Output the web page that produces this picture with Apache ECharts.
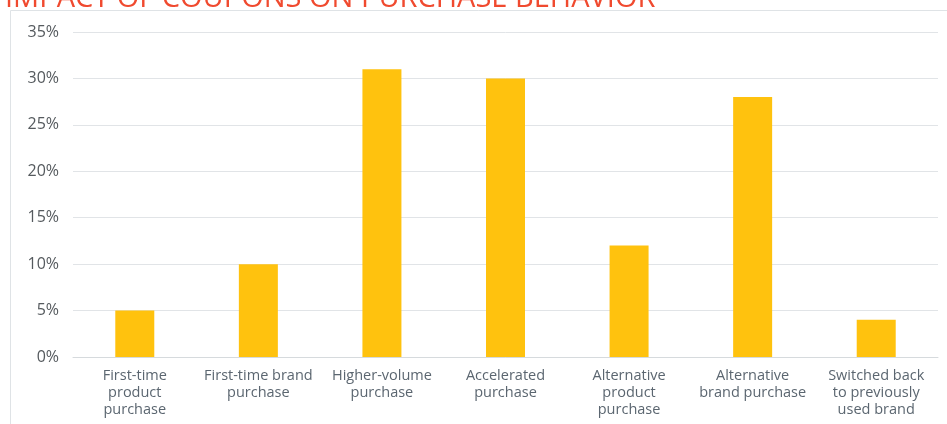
<!DOCTYPE html>
<html>
<head>
<meta charset="utf-8">
<script src="https://cdn.jsdelivr.net/npm/echarts@6/dist/echarts.min.js"></script>
<style>
  html, body { margin: 0; padding: 0; background: #fff; }
  #chart { width: 947px; height: 424px; }
</style>
</head>
<body>
<div id="chart"></div>
<script>
const categories = [
  'First-time\nproduct\npurchase',
  'First-time brand\npurchase',
  'Higher-volume\npurchase',
  'Accelerated\npurchase',
  'Alternative\nproduct\npurchase',
  'Alternative\nbrand purchase',
  'Switched back\nto previously\nused brand'
]
const values = [5, 10, 31, 30, 12, 28, 4]
const yTicks = [0, 5, 10, 15, 20, 25, 30, 35]

const chart = echarts.init(document.getElementById('chart'))
const option = {
  backgroundColor: '#ffffff',
  animation: false,
  title: {
    text: 'IMPACT OF COUPONS ON PURCHASE BEHAVIOR',
    left: 0,
    top: -21,
    textStyle: {
      color: '#f04a2f',
      fontFamily: 'Open Sans',
      fontSize: 29,
      fontWeight: 'normal'
    }
  },
  graphic: [{
    type: 'polyline',
    shape: { points: [[10.5, 424], [10.5, 10.5], [947, 10.5]] },
    style: { stroke: '#dfe3e6', lineWidth: 1, fill: null },
    silent: true
  }],
  grid: {
    left: 73,
    right: 9,
    top: 32,
    bottom: 67
  },
  xAxis: {
    type: 'category',
    data: categories,
    axisLine: { lineStyle: { color: '#d6dadd', width: 1 } },
    axisTick: { show: false },
    axisLabel: {
      interval: 0,
      color: '#5b6670',
      fontFamily: 'Open Sans',
      fontSize: 14.5,
      lineHeight: 17,
      margin: 10
    }
  },
  yAxis: {
    type: 'value',
    min: yTicks[0],
    max: yTicks[yTicks.length - 1],
    interval: 5,
    axisLine: { show: false },
    axisTick: { show: false },
    splitLine: { lineStyle: { color: '#e1e4e7', width: 1 } },
    axisLabel: {
      color: '#555a5e',
      fontFamily: 'Open Sans',
      fontSize: 16,
      margin: 14,
      formatter: '{value}%'
    }
  },
  series: [{
    type: 'bar',
    data: values,
    barWidth: 39,
    itemStyle: { color: '#ffc20e' }
  }]
}
chart.setOption(option)
</script>
</body>
</html>
